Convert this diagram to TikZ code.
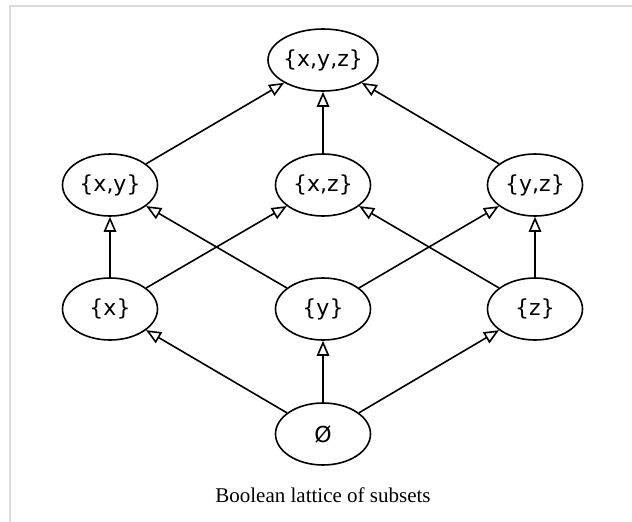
\documentclass[tikz,border=0pt]{standalone}
\usepackage{fontspec}
\usepackage{tikz}
\usetikzlibrary{
  arrows.meta,
  shapes.geometric
}
\newfontfamily\setfont{DejaVu Sans}
\newfontfamily\capfont{Liberation Serif}
\definecolor{framegray}{RGB}{218,218,218}

\tikzset{
  subset/.style={draw, ellipse, line width=1.6pt, inner sep=0pt,
    minimum width=95pt, minimum height=62pt,
    font=\setfont\fontsize{22}{26}\selectfont},
  cover/.style={line width=1.6pt,
    -{Triangle[open, length=15pt, width=12.5pt, line width=1.6pt]}}
}

\begin{document}
\begin{tikzpicture}[x=1pt, y=-1pt]
  \useasboundingbox (0,0) rectangle (632,522);
  \draw[framegray, line width=1.8pt] (10,522) -- (10,6) -- (632,6);
  % the lattice
  \node[subset, minimum width=110pt, inner xsep=-4pt] (xyz) at (323,60) {\{x,y,z\}};
  \node[subset] (xy) at (110,185) {\{x,y\}};
  \node[subset] (xz) at (323,185) {\{x,z\}};
  \node[subset] (yz) at (535,185) {\{y,z\}};
  \node[subset] (x) at (110,309) {\{x\}};
  \node[subset] (y) at (323,309) {\{y\}};
  \node[subset] (z) at (535,309) {\{z\}};
  \node[subset] (empty) at (323,434) {Ø};
  \draw[cover] (empty) -- (x);
  \draw[cover] (empty) -- (y);
  \draw[cover] (empty) -- (z);
  \draw[cover] (x) -- (xy);
  \draw[cover] (x) -- (xz);
  \draw[cover] (y) -- (xy);
  \draw[cover] (y) -- (yz);
  \draw[cover] (z) -- (xz);
  \draw[cover] (z) -- (yz);
  \draw[cover] (xy) -- (xyz);
  \draw[cover] (xz) -- (xyz);
  \draw[cover] (yz) -- (xyz);
  \node[font=\capfont\fontsize{21}{24}\selectfont, anchor=base] (caption) at (323,502) {Boolean lattice of subsets};
\end{tikzpicture}
\end{document}
